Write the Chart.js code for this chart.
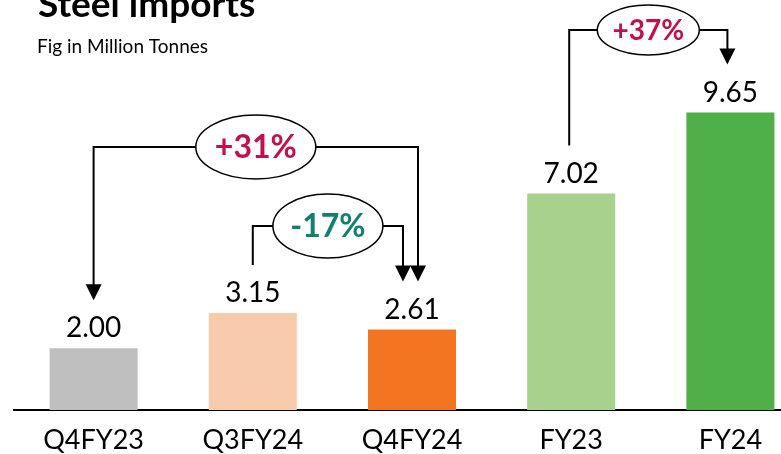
<!DOCTYPE html>
<html lang="en">
<head>
    <meta charset="UTF-8">
    <title>Steel Imports</title>
    <script src="https://cdn.jsdelivr.net/npm/chart.js"></script>
    <style>
* {
    margin: 0;
    padding: 0;
    box-sizing: border-box;
}
body {
    background: #ffffff;
    width: 781px;
    height: 454px;
    overflow: hidden;
}
#wrap {
    width: 810px;
    height: 454px;
    position: relative;
}
    </style>
</head>
<body>
    <div id="wrap">
        <canvas id="importsChart"></canvas>
    </div>

    <script>
        // data
        const categories = ['Q4FY23', 'Q3FY24', 'Q4FY24', 'FY23', 'FY24'];
        const imports = [2.00, 3.15, 2.61, 7.02, 9.65];
        const barColors = ['#BFBFBF', '#F8CBAD', '#F37521', '#A9D18E', '#4FAF48'];

        // change brackets: from bar -> to bar
        const changeFrom = [0, 1, 3];
        const changeTo = [2, 2, 4];
        const changeText = ['+31%', '-17%', '+37%'];

        const titleText = 'Steel imports';
        const subtitleText = 'Fig in Million Tonnes';

        // drawing look of each bracket (pixels)
        const bracketStyle = [
            { level: 147, dxA: 0, dxB: 6, arrowA: true, arrowB: true, rx: 60, ry: 32, font: 32, color: '#C3104A' },
            { level: 226, dxA: 0, dxB: -9, arrowA: false, arrowB: true, rx: 55, ry: 32, font: 32, color: '#11806E' },
            { level: 30, dxA: -2, dxB: -3, arrowA: false, arrowB: true, rx: 51, ry: 25, font: 28, color: '#C3104A' }
        ];

        function arrowHead(ctx, x, tipY) {
            ctx.beginPath();
            ctx.moveTo(x - 8, tipY - 16);
            ctx.lineTo(x + 8, tipY - 16);
            ctx.lineTo(x, tipY);
            ctx.closePath();
            ctx.fill();
        }

        const extrasPlugin = {
            id: 'extras',
            afterDatasetsDraw(chart) {
                const ctx = chart.ctx;
                const meta = chart.getDatasetMeta(0);
                ctx.save();

                // title + subtitle
                ctx.fillStyle = '#000';
                ctx.textAlign = 'left';
                ctx.textBaseline = 'alphabetic';
                ctx.font = 'bold 37px Lato';
                ctx.fillText(titleText, 38, 17);
                ctx.font = '19px Lato';
                ctx.fillText(subtitleText, 37, 53);

                // value labels
                ctx.font = '28px Lato';
                ctx.textAlign = 'center';
                ctx.textBaseline = 'middle';
                meta.data.forEach((bar, i) => {
                    ctx.fillText(imports[i].toFixed(2), bar.x, bar.y - 20);
                });

                // brackets
                ctx.strokeStyle = '#000';
                ctx.lineWidth = 2;
                changeFrom.forEach((a, k) => {
                    const b = changeTo[k];
                    const s = bracketStyle[k];
                    const xa = meta.data[a].x + s.dxA;
                    const xb = meta.data[b].x + s.dxB;
                    const ya = meta.data[a].y - 48;
                    const yb = meta.data[b].y - 48;

                    ctx.beginPath();
                    ctx.moveTo(xa, s.arrowA ? ya - 15 : ya);
                    ctx.lineTo(xa, s.level);
                    ctx.lineTo(xb, s.level);
                    ctx.lineTo(xb, s.arrowB ? yb - 15 : yb);
                    ctx.stroke();
                    ctx.fillStyle = '#000';
                    if (s.arrowA) arrowHead(ctx, xa, ya);
                    if (s.arrowB) arrowHead(ctx, xb, yb);

                    const cx = (xa + xb) / 2;
                    ctx.beginPath();
                    ctx.ellipse(cx, s.level, s.rx, s.ry, 0, 0, Math.PI * 2);
                    ctx.fillStyle = '#fff';
                    ctx.fill();
                    ctx.lineWidth = 1.5;
                    ctx.stroke();
                    ctx.lineWidth = 2;

                    ctx.fillStyle = s.color;
                    ctx.font = 'bold ' + s.font + 'px Lato';
                    ctx.fillText(changeText[k], cx, s.level + 1);
                });
                ctx.restore();
            }
        };

        const ctx = document.getElementById('importsChart').getContext('2d');
        const chart = new Chart(ctx, {
            type: 'bar',
            data: {
                labels: categories,
                datasets: [{
                    data: imports,
                    backgroundColor: barColors,
                    barPercentage: 0.553,
                    categoryPercentage: 1
                }]
            },
            options: {
                responsive: true,
                maintainAspectRatio: false,
                animation: false,
                layout: { padding: { left: 14, right: 0, top: 0, bottom: 0 } },
                plugins: {
                    legend: { display: false },
                    tooltip: { enabled: false }
                },
                scales: {
                    x: {
                        grid: { display: false },
                        border: { display: true, color: '#000', width: 2 },
                        ticks: {
                            color: '#000',
                            font: { family: 'Lato', size: 27 },
                            padding: 6
                        },
                        afterFit(scale) { scale.height = 44; }
                    },
                    y: {
                        display: false,
                        min: 0,
                        max: 13.3
                    }
                }
            },
            plugins: [extrasPlugin]
        });
    </script>
</body>
</html>
